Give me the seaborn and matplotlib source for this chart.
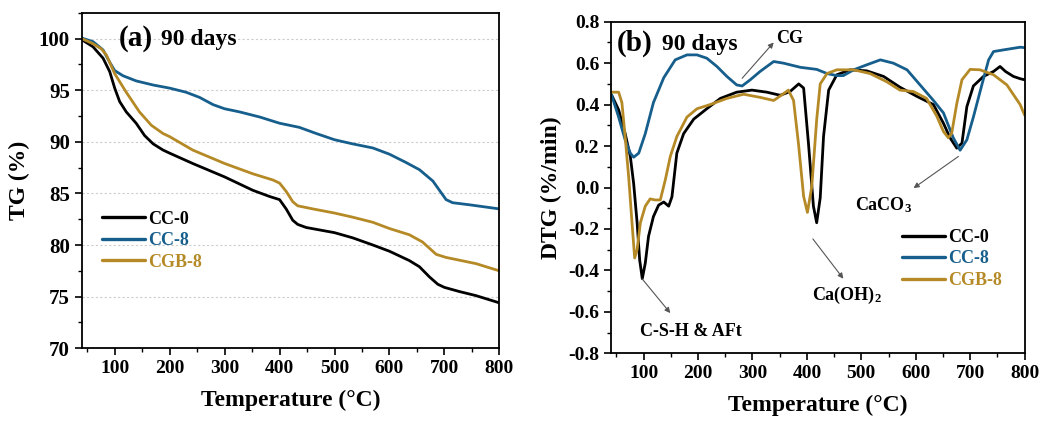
import numpy as np
import pandas as pd
import matplotlib
matplotlib.use("Agg")
import matplotlib.pyplot as plt
from matplotlib.ticker import MultipleLocator, FormatStrFormatter
import seaborn as sns

# ---------------- data ----------------
tg_cc0_x = [40, 60.6, 78.8, 90.9, 100, 109, 121, 139, 154.5, 170, 188, 200, 242, 300, 351.5, 382, 400, 412, 424, 433, 448.5, 500, 533, 570, 600, 636, 654.5, 673, 688, 700, 727, 757.5, 800]
tg_cc0_y = [99.9, 99.2, 98.1, 96.8, 95.2, 93.9, 92.9, 91.8, 90.6, 89.8, 89.2, 88.9, 87.9, 86.6, 85.3, 84.7, 84.4, 83.5, 82.4, 82.0, 81.7, 81.2, 80.7, 80.0, 79.4, 78.5, 77.9, 76.9, 76.2, 75.9, 75.5, 75.1, 74.4]
tg_cc8_x = [40, 60.6, 78.8, 91, 100, 115, 139, 170, 200, 230, 254.5, 279, 300, 327, 364, 400, 436, 467, 500, 533, 570, 600, 630, 654.5, 679, 691, 703, 715, 745.5, 800]
tg_cc8_y = [100.05, 99.7, 98.9, 97.7, 96.9, 96.4, 95.9, 95.5, 95.2, 94.8, 94.3, 93.6, 93.2, 92.9, 92.4, 91.8, 91.4, 90.8, 90.2, 89.8, 89.4, 88.8, 88.0, 87.3, 86.2, 85.3, 84.4, 84.1, 83.9, 83.5]
tg_cgb8_x = [40, 60.6, 75.8, 85, 100, 121, 145, 166.7, 188, 200, 242, 300, 351.5, 388, 400, 412, 424, 433, 460.6, 500, 533, 570, 600, 636, 660, 685, 703, 757.5, 800]
tg_cgb8_y = [100.0, 99.5, 99.0, 98.4, 96.6, 94.8, 92.9, 91.6, 90.8, 90.5, 89.2, 87.9, 86.9, 86.3, 86.0, 85.2, 84.2, 83.8, 83.5, 83.1, 82.7, 82.2, 81.6, 81.0, 80.3, 79.1, 78.8, 78.2, 77.5]

dtg_cc0_x = [41, 54, 66, 75.5, 81.6, 88, 92.7, 97.5, 103, 109, 118, 127.5, 137, 146, 152, 161, 173.5, 192, 216, 241, 271, 299, 326.5, 351, 369, 385, 394, 403, 412, 418, 424.5, 430.6, 440, 455, 479.6, 510, 541, 571, 602, 632.6, 651, 663, 675.5, 685, 694, 706, 724.5, 743, 755, 765, 779.6, 792, 800]
dtg_cc0_y = [0.447, 0.375, 0.26, 0.15, 0.02, -0.17, -0.35, -0.44, -0.365, -0.235, -0.14, -0.085, -0.07, -0.09, -0.045, 0.166, 0.26, 0.33, 0.38, 0.43, 0.46, 0.47, 0.46, 0.445, 0.463, 0.50, 0.48, 0.21, -0.09, -0.17, -0.05, 0.246, 0.47, 0.544, 0.568, 0.563, 0.536, 0.484, 0.44, 0.40, 0.31, 0.24, 0.19, 0.214, 0.39, 0.49, 0.536, 0.56, 0.584, 0.56, 0.536, 0.525, 0.52]
dtg_cc8_x = [41, 54, 66, 75.5, 81.6, 91, 103, 118, 137, 158, 179.6, 198, 216, 234.7, 253, 271, 281, 296, 314, 339, 357, 388, 418, 437, 455, 467, 486, 510, 535, 559, 584, 608, 632.6, 651, 669, 681.6, 694, 706, 721, 734, 743, 761, 792, 800]
dtg_cc8_y = [0.447, 0.34, 0.23, 0.166, 0.146, 0.166, 0.26, 0.41, 0.53, 0.616, 0.64, 0.64, 0.624, 0.584, 0.536, 0.495, 0.49, 0.52, 0.56, 0.608, 0.60, 0.58, 0.57, 0.55, 0.54, 0.54, 0.568, 0.592, 0.616, 0.60, 0.568, 0.495, 0.42, 0.36, 0.24, 0.18, 0.23, 0.34, 0.49, 0.616, 0.656, 0.664, 0.677, 0.675]
dtg_cgb8_x = [41, 54, 60, 66, 72.5, 78.6, 83.5, 88, 94, 103, 112, 121, 130.6, 139.8, 149, 161, 179.6, 198, 222, 253, 283.7, 314, 339, 354, 366, 375.5, 384.6, 394, 401, 409, 418, 424.5, 437, 455, 486, 516, 547, 571, 596, 620, 639, 651, 660, 666, 675.5, 685, 700, 718, 743, 767.6, 792, 800]
dtg_cgb8_y = [0.46, 0.46, 0.41, 0.245, 0.05, -0.17, -0.34, -0.30, -0.17, -0.09, -0.055, -0.06, -0.06, 0.037, 0.15, 0.246, 0.34, 0.38, 0.40, 0.43, 0.45, 0.435, 0.42, 0.447, 0.47, 0.42, 0.21, -0.043, -0.12, 0.005, 0.327, 0.50, 0.55, 0.568, 0.568, 0.55, 0.51, 0.47, 0.463, 0.43, 0.343, 0.27, 0.24, 0.26, 0.405, 0.52, 0.57, 0.568, 0.544, 0.495, 0.40, 0.35]

series_names = ["CC-0", "CC-8", "CGB-8"]
colors = {"CC-0": "#000000", "CC-8": "#165e8c", "CGB-8": "#b58a26"}

def long_df(pairs):
    frames = []
    for name, (x, y) in zip(series_names, pairs):
        frames.append(pd.DataFrame({"T": x, "v": y, "s": name}))
    return pd.concat(frames, ignore_index=True)

tg_df = long_df([(tg_cc0_x, tg_cc0_y), (tg_cc8_x, tg_cc8_y), (tg_cgb8_x, tg_cgb8_y)])
dtg_df = long_df([(dtg_cc0_x, dtg_cc0_y), (dtg_cc8_x, dtg_cc8_y), (dtg_cgb8_x, dtg_cgb8_y)])

# ---------------- style ----------------
sns.set_theme(style="ticks")
plt.rcParams["font.family"] = ["Liberation Serif", "DejaVu Serif"]
plt.rcParams.update({
    "font.weight": "bold",
    "axes.labelweight": "bold",
    "mathtext.fontset": "custom",
    "mathtext.rm": "Liberation Serif:bold",
    "mathtext.bf": "Liberation Serif:bold",
    "mathtext.it": "Liberation Serif:bold:italic",
    "text.color": "black",
    "axes.labelcolor": "black",
    "xtick.color": "black",
    "ytick.color": "black",
    "axes.edgecolor": "black",
    "axes.linewidth": 1.3,
    "xtick.major.width": 1.2, "ytick.major.width": 1.2,
    "xtick.minor.width": 1.0, "ytick.minor.width": 1.0,
    "xtick.major.size": 5, "ytick.major.size": 5,
    "xtick.minor.size": 3, "ytick.minor.size": 3,
})

fig = plt.figure(figsize=(10.56, 4.21), dpi=100)
ax1 = fig.add_axes([0.0774, 0.1727, 0.3955, 0.797])
ax2 = fig.add_axes([0.5786, 0.1608, 0.3916, 0.7876])

lw = 2.0
sns.lineplot(data=tg_df, x="T", y="v", hue="s", palette=colors, hue_order=series_names,
             ax=ax1, linewidth=lw, sort=False, estimator=None)
sns.lineplot(data=dtg_df, x="T", y="v", hue="s", palette=colors, hue_order=series_names,
             ax=ax2, linewidth=lw, sort=False, estimator=None)

for ax in (ax1, ax2):
    for sp in ax.spines.values():
        sp.set_visible(True)
        sp.set_color("black")
    ax.set_xlim(40, 800)
    ax.xaxis.set_major_locator(MultipleLocator(100))
    ax.xaxis.set_minor_locator(MultipleLocator(50))
    ax.tick_params(axis="both", which="both", direction="out")
    ax.tick_params(axis="x", labelsize=14)
    ax.tick_params(top=False, right=False)
    ax.set_xlabel("Temperature (°C)", fontsize=17, fontweight="bold", labelpad=9)

# left panel
ax1.set_ylim(70, 102.5)
ax1.yaxis.set_major_locator(MultipleLocator(5))
ax1.yaxis.set_minor_locator(MultipleLocator(2.5))
ax1.tick_params(axis="y", labelsize=15)
ax1.grid(axis="y", which="major", linestyle=(0, (2, 2)), color="#cccccc", linewidth=0.8)
ax1.set_ylabel("TG (%)", fontsize=17, fontweight="bold", labelpad=6)
ax1.text(0.088, 0.924, "(a)", transform=ax1.transAxes, fontsize=21, fontweight="bold", va="center")
ax1.text(0.19, 0.92, "90 days", transform=ax1.transAxes, fontsize=17, fontweight="bold", va="center")
leg1 = ax1.legend(loc="upper left", bbox_to_anchor=(0.048, 0.41), frameon=False, fontsize=13,
                  handlelength=2.4, handletextpad=0.15, labelspacing=0.25, borderaxespad=0,
                  borderpad=0)
for t, n in zip(leg1.get_texts(), series_names):
    t.set_color(colors[n]); t.set_fontweight("bold")
for h in leg1.get_lines():
    h.set_linewidth(2.4)

# right panel
ax2.set_ylim(-0.8, 0.8)
ax2.yaxis.set_major_locator(MultipleLocator(0.2))
ax2.yaxis.set_minor_locator(MultipleLocator(0.1))
ax2.yaxis.set_major_formatter(FormatStrFormatter("%.1f"))
ax2.tick_params(axis="y", labelsize=14)
ax2.set_ylabel("DTG (%/min)", fontsize=17, fontweight="bold", labelpad=4)
ax2.text(0.014, 0.935, "(b)", transform=ax2.transAxes, fontsize=21, fontweight="bold", va="center")
ax2.text(0.123, 0.93, "90 days", transform=ax2.transAxes, fontsize=17, fontweight="bold", va="center")
leg2 = ax2.legend(loc="upper left", bbox_to_anchor=(0.703, 0.375), frameon=False, fontsize=13,
                  handlelength=2.4, handletextpad=0.15, labelspacing=0.25, borderaxespad=0,
                  borderpad=0)
for t, n in zip(leg2.get_texts(), series_names):
    t.set_color(colors[n]); t.set_fontweight("bold")
for h in leg2.get_lines():
    h.set_linewidth(2.4)

arrow = dict(arrowstyle="-|>", color="#555555", lw=0.8, mutation_scale=8, shrinkA=0, shrinkB=0)
ax2.annotate("", xy=(339, 0.70), xytext=(281, 0.527), arrowprops=arrow)
ax2.text(369, 0.72, "CG", fontsize=13, fontweight="bold", ha="center", va="center")
ax2.annotate("", xy=(149, -0.606), xytext=(97, -0.44), arrowprops=arrow)
ax2.text(187, -0.695, "C-S-H & AFt", fontsize=13, fontweight="bold", ha="center", va="center")
ax2.annotate("", xy=(467, -0.44), xytext=(411, -0.248), arrowprops=arrow)
ax2.text(473.5, -0.52, "Ca(OH)$_\\mathbf{2}$", fontsize=13, fontweight="bold", ha="center", va="center")
ax2.annotate("", xy=(596, -0.003), xytext=(678.5, 0.15), arrowprops=arrow)
ax2.text(541, -0.085, "CaCO$_\\mathbf{3}$", fontsize=13, fontweight="bold", ha="center", va="center")

fig.savefig("out.png", dpi=100)
